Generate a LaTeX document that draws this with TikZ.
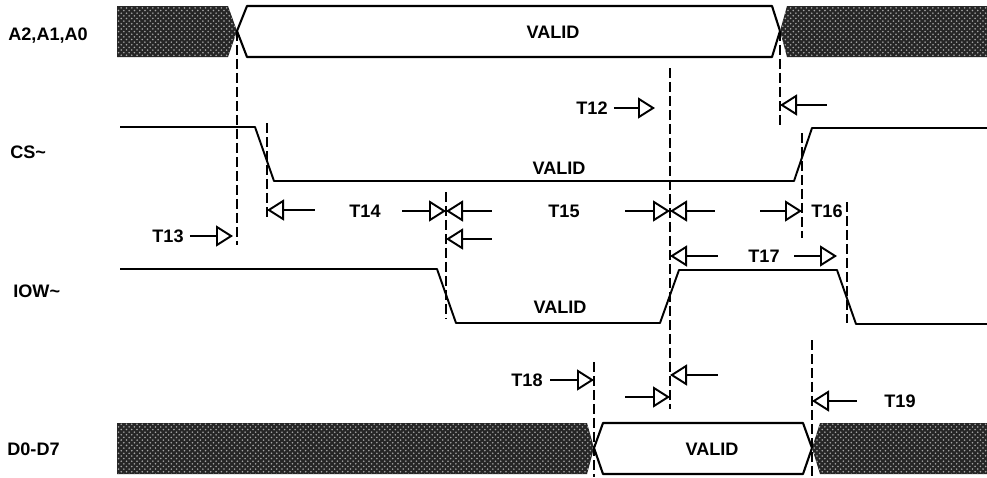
\documentclass[tikz,border=0pt]{standalone}
\usepackage{fontspec}
\setmainfont{Liberation Sans}
\usetikzlibrary{arrows.meta}
\usetikzlibrary{patterns}

\begin{document}
\begin{tikzpicture}[x=0.02cm, y=-0.02cm,
	every node/.style={font=\bfseries\fontsize{10.3}{12}\selectfont},
	signame/.style={anchor=west, inner sep=0pt},
	lbl/.style={},
	sig/.style={line width=1.1pt, line join=round},
	bus/.style={line width=1.2pt, line join=round},
	hatch/.style={fill=black!85, postaction={pattern=crosshatch dots, pattern color=white!65!black}},
	guide/.style={line width=1.1pt, dash pattern=on 0.2cm off 0.08cm},
	fwd/.style={line width=0.9pt, -{Triangle[open, length=0.34cm, width=0.42cm, line width=1.1pt]}},
	back/.style={line width=0.9pt, {Triangle[open, length=0.34cm, width=0.42cm, line width=1.1pt]}-}]
				\useasboundingbox (0,0) rectangle (987,477);
				
				% signal names
				\node[signame] (nA) at (8,36) {A2,A1,A0};
				\node[signame] (nCS) at (10,152) {CS\char`~};
				\node[signame] (nIOW) at (13,291) {IOW\char`~};
				\node[signame] (nD) at (7,449) {D0-D7};
				
				% A2,A1,A0
				\fill[hatch] (117,6) -- (228,6) -- (237,31) -- (228,57) -- (117,57) -- cycle;
				\draw[bus] (237,31) -- (247,6) -- (772,6) -- (780,31) -- (772,57) -- (247,57) -- cycle;
				\fill[hatch] (780,31) -- (787,6) -- (987,6) -- (987,57) -- (787,57) -- cycle;
				\node[lbl] (vA) at (553,32) {VALID};
				
				% CS~ and IOW~
				\draw[sig] (120,127) -- (255,127) -- (274,181) -- (794,181) -- (812,128) -- (987,128);
				\node[lbl] (vCS) at (559,168) {VALID};
				\draw[sig] (120,269) -- (437,269) -- (456,323) -- (660,323) -- (679,270) -- (837,270) -- (856,324) -- (987,324);
				\node[lbl] (vIOW) at (560,307) {VALID};
				
				% D0-D7
				\fill[hatch] (117,423) -- (587,423) -- (594,448) -- (587,474) -- (117,474) -- cycle;
				\draw[bus] (594,448) -- (603,423) -- (803,423) -- (812,448) -- (803,474) -- (603,474) -- cycle;
				\fill[hatch] (812,448) -- (820,423) -- (987,423) -- (987,474) -- (820,474) -- cycle;
				\node[lbl] (vD) at (712,449) {VALID};
				
				% guide lines
				\draw[guide] (237,31) coordinate (g1) -- (237,245);
				\draw[guide] (267,123) coordinate (g2) -- (267,220);
				\draw[guide] (446,192) coordinate (g3) -- (446,318);
				\draw[guide] (670,68) coordinate (g4) -- (670,409);
				\draw[guide] (780,31) coordinate (g5) -- (780,125);
				\draw[guide] (802,133) coordinate (g6) -- (802,238);
				\draw[guide] (847,202) coordinate (g7) -- (847,323);
				\draw[guide] (594,362) coordinate (g8) -- (594,477);
				\draw[guide] (812,340) coordinate (g9) -- (812,477);
				
				% timing labels
				\node[lbl] (T12) at (592,108) {T12};
				\node[lbl] (T13) at (168,236) {T13};
				\node[lbl] (T14) at (365,211) {T14};
				\node[lbl] (T15) at (564,211) {T15};
				\node[lbl] (T16) at (827,211) {T16};
				\node[lbl] (T17) at (764,256) {T17};
				\node[lbl] (T18) at (527,380) {T18};
				\node[lbl] (T19) at (900,401) {T19};
				
				\draw[fwd] (T12.east) -- ([xshift=-0.3cm]T12 -| g4);
				\draw[back] (g5 |- 0,105) -- ++(47,0);
				\draw[back] (g2 |- 0,210) -- ++(48,0);
				\draw[fwd] (T13.east) -- ([xshift=-0.08cm]T13 -| g1);
				\draw[fwd] ([xshift=-0.88cm]T14 -| g3) -- (T14 -| g3);
				\draw[back] (T14 -| g3) -- ++(46,0);
				\draw[back] (g3 |- 0,239) -- ++(46,0);
				\draw[fwd] ([xshift=-0.9cm]T15 -| g4) -- (T15 -| g4);
				\draw[back] (T15 -| g4) -- ++(45,0);
				\draw[fwd] ([xshift=-0.84cm]T16 -| g6) -- (T16 -| g6);
				\draw[back] (T17 -| g4) -- ++(48,0);
				\draw[fwd] ([xshift=-1.06cm]T17 -| g7) -- ([xshift=-0.2cm]T17 -| g7);
				\draw[fwd] ([xshift=-0.88cm]T18 -| g8) -- (T18 -| g8);
				\draw[fwd] ([xshift=-0.9cm]g4 |- 0,397) -- (g4 |- 0,397);
				\draw[back] (g4 |- 0,375) -- ++(48,0);
				\draw[back] (g9 |- T19) -- ++(45,0);
			\end{tikzpicture}
\end{document}
